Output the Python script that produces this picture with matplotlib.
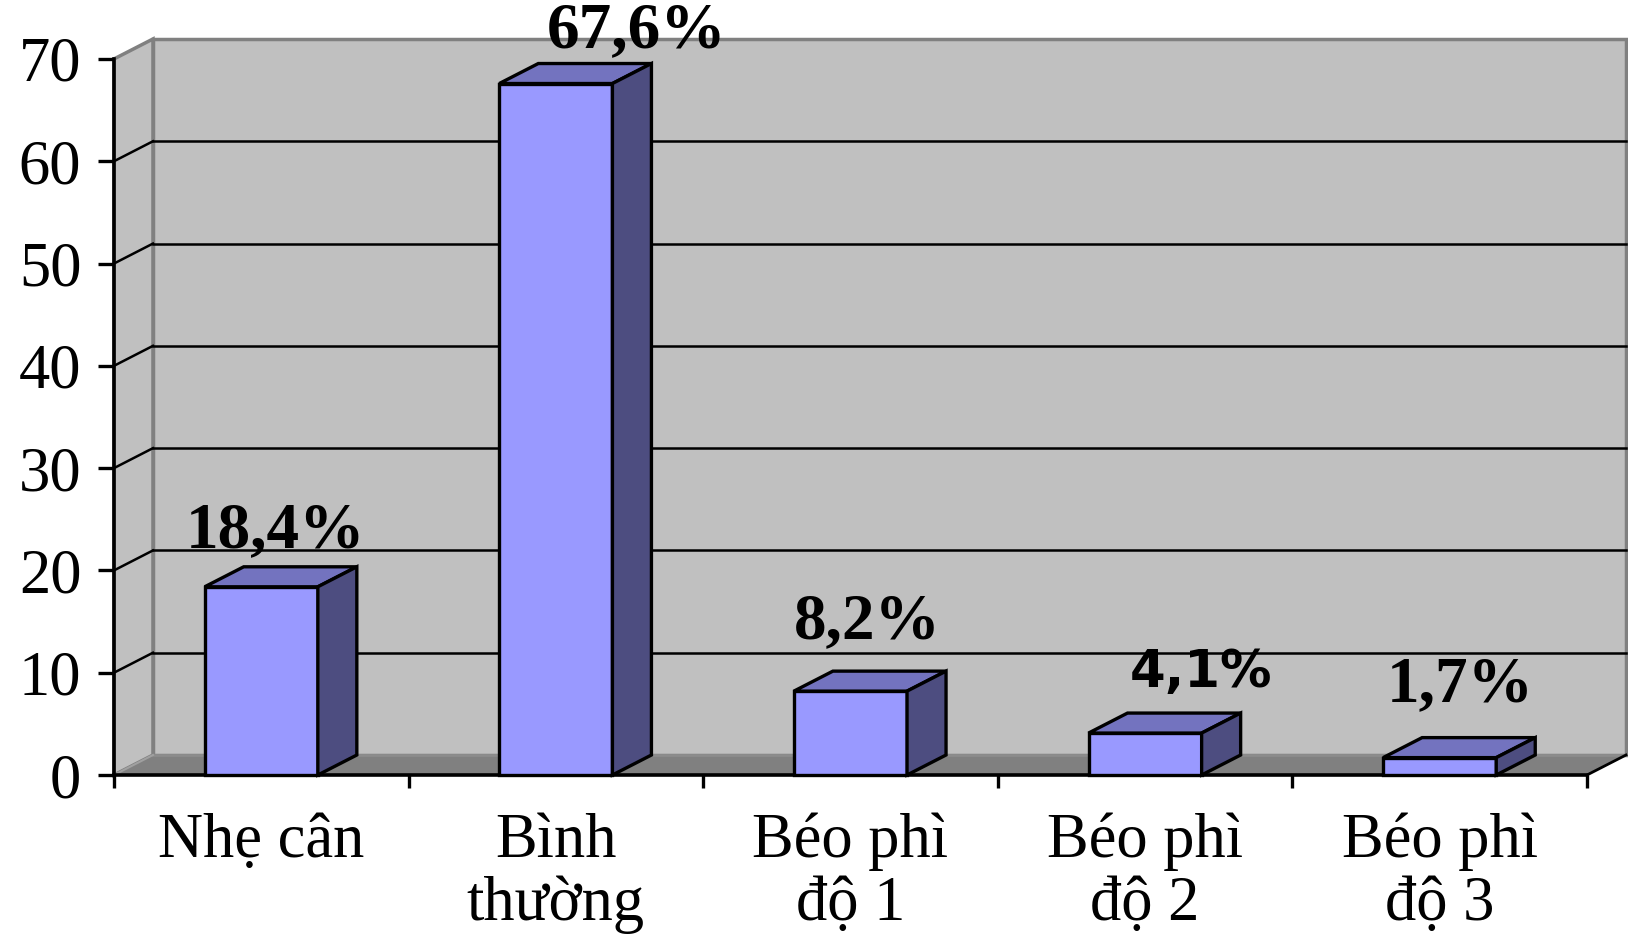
# 3D-style column chart: weight status distribution
import numpy as np
import matplotlib.pyplot as plt
from matplotlib.patches import Polygon, Rectangle

plt.rcParams['font.family'] = ['Liberation Serif', 'DejaVu Serif']

categories = ['Nhẹ cân', 'Bình\nthường', 'Béo phì\nđộ 1', 'Béo phì\nđộ 2', 'Béo phì\nđộ 3']
values = [18.4, 67.6, 8.2, 4.1, 1.7]
labels = ['18,4%', '67,6%', '8,2%', '4,1%', '1,7%']
yticks = [0, 10, 20, 30, 40, 50, 60, 70]

# hand placed label nudges (points) and per-label font
label_dx = [-4, 44, -2, 26, 1]
label_dy = [14, 12, 24, 19, 26]
label_font = ['Liberation Serif', 'Liberation Serif', 'Liberation Serif', 'DejaVu Sans', 'Liberation Serif']
label_size = [47, 47, 47, 37, 47]

front = '#9999FF'
top = '#7373BF'
side = '#4D4D80'
wall = '#C0C0C0'
floor = '#808080'
edge_gray = '#808080'

n = len(values)
ymax = 70
depth_x = 0.1324   # depth offset in category units
depth_y = 1.955    # depth offset in value units
bw = 0.384         # bar width

fig = plt.figure(figsize=(16.28, 9.36), dpi=100)
ax = fig.add_axes([0.0700, 0.1720, 0.9048, 0.7650])
ax.set_xlim(0, n)
ax.set_ylim(0, ymax)
ax.patch.set_visible(False)

# walls and floor
ax.add_patch(Rectangle((depth_x, depth_y), n, ymax, facecolor=wall,
                       edgecolor=edge_gray, lw=2.5, clip_on=False, zorder=0))
ax.add_patch(Polygon([(0, 0), (depth_x, depth_y), (depth_x, ymax + depth_y), (0, ymax)],
                     closed=True, facecolor=wall, edgecolor=edge_gray, lw=2.5,
                     clip_on=False, zorder=0))
ax.add_patch(Polygon([(0, 0), (depth_x, depth_y), (n + depth_x, depth_y), (n, 0)],
                     closed=True, facecolor=floor, edgecolor='none',
                     clip_on=False, zorder=0.2))
ax.plot([depth_x, n + depth_x], [depth_y, depth_y], color='#8C8C8C', lw=2,
        clip_on=False, zorder=0.3)
ax.plot([0, depth_x], [0, depth_y], color='#A0A0A0', lw=1.5, clip_on=False, zorder=0.3)
ax.plot([n, n + depth_x], [0, depth_y], color='black', lw=2, clip_on=False, zorder=0.3)

# gridlines on back and side walls
for v in yticks[1:-1]:
    ax.plot([depth_x, n + depth_x], [v + depth_y, v + depth_y], color='black', lw=1.8,
            clip_on=False, zorder=0.5)
    ax.plot([0, depth_x], [v, v + depth_y], color='black', lw=1.8,
            clip_on=False, zorder=0.5)

# bars
for i, v in enumerate(values):
    x0 = i + 0.5 - bw / 2
    x1 = x0 + bw
    kw = dict(closed=True, edgecolor='black', lw=2.4, joinstyle='miter', clip_on=False)
    ax.add_patch(Polygon([(x0, 0), (x1, 0), (x1, v), (x0, v)], facecolor=front, zorder=3 + i, **kw))
    ax.add_patch(Polygon([(x0, v), (x0 + depth_x, v + depth_y), (x1 + depth_x, v + depth_y), (x1, v)],
                         facecolor=top, zorder=3 + i, **kw))
    ax.add_patch(Polygon([(x1, 0), (x1 + depth_x, depth_y), (x1 + depth_x, v + depth_y), (x1, v)],
                         facecolor=side, zorder=3 + i, **kw))
    ax.annotate(labels[i], xy=(i + 0.5 + depth_x / 2, v + depth_y),
                xytext=(label_dx[i], label_dy[i]), textcoords='offset points',
                ha='center', va='baseline', fontsize=label_size[i], fontweight='bold',
                family=label_font[i], annotation_clip=False, zorder=20)

# axes
for s in ['top', 'right']:
    ax.spines[s].set_visible(False)
for s in ['left', 'bottom']:
    ax.spines[s].set_linewidth(2.6)
    ax.spines[s].set_zorder(2)

ax.set_yticks(yticks)
ax.set_yticklabels([str(t) for t in yticks])
ax.tick_params(axis='y', direction='out', length=11.5, width=2.4, pad=12, labelsize=45)

ax.set_xticks(np.arange(n + 1))
ax.set_xticklabels([])
ax.tick_params(axis='x', which='major', direction='out', length=9, width=2.4)
ax.set_xticks(np.arange(n) + 0.5, minor=True)
ax.set_xticklabels(categories, minor=True, fontsize=45, linespacing=1.12)
ax.tick_params(axis='x', which='minor', length=0, pad=27)

plt.savefig('out.png', dpi=100)
